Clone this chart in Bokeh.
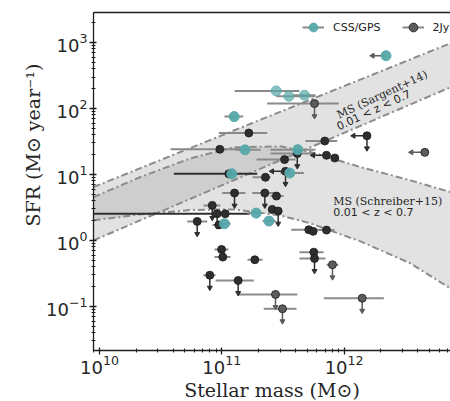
import math
from bokeh.plotting import figure
from bokeh.models import (Range1d, LogAxis, FixedTicker, LogTickFormatter, Label,
                          Legend, LegendItem, ColumnDataSource, Title)
from bokeh.embed import file_html
from bokeh.resources import INLINE

# ---------------- data (log10 values) ----------------
# 2Jy sample
jy_logm = [11.758, 11.221, 10.984, 11.842, 12.187, 12.660, 11.057, 11.617, 11.513, 11.856,
           11.924, 11.357, 11.521, 11.104, 11.352, 11.447, 10.922, 10.962, 11.028, 10.976,
           11.412, 11.461, 10.799, 10.998, 11.008, 11.270, 11.711, 11.747, 11.856, 11.752,
           11.758, 11.905, 10.902, 11.134, 11.439, 11.496, 12.148]
jy_logsfr = [2.074, 1.628, 1.381, 1.507, 1.586, 1.335, 1.009, 1.316, 1.225, 1.290,
             1.249, 0.956, 1.047, 0.718, 0.718, 0.672, 0.531, 0.405, 0.405, 0.235,
             0.470, 0.445, 0.288, -0.137, -0.253, -0.293, 0.162, 0.137, 0.156, -0.178,
             -0.273, -0.369, -0.527, -0.607, -0.819, -1.036, -0.876]
jy_logm_lo = [11.371, 10.976, 10.581, 11.684, 12.187, 12.660, 10.608, 11.398, 11.284, 11.856,
              11.894, 11.251, 11.521, 11.003, 11.249, 11.398, 10.850, 10.962, 9.850, 10.924,
              11.412, 11.461, 10.717, 10.940, 10.940, 11.210, 11.568, 11.747, 11.791, 11.635,
              11.635, 11.856, 10.850, 10.949, 11.126, 11.343, 11.834]
jy_logm_hi = [11.957, 11.371, 11.153, 11.944, 12.187, 12.660, 11.290, 11.766, 11.603, 11.856,
              11.954, 11.398, 11.521, 11.194, 11.453, 11.505, 10.989, 10.962, 11.229, 11.006,
              11.412, 11.461, 10.881, 11.055, 11.071, 11.333, 11.889, 11.747, 11.922, 11.832,
              11.848, 11.954, 10.949, 11.262, 11.617, 11.611, 12.325]
jy_sfr_uplim = [1, 0, 0, 0, 1, 0, 0, 1, 0, 0,
                0, 0, 1, 1, 1, 0, 1, 1, 0, 0,
                0, 1, 1, 0, 0, 0, 0, 0, 0, 0,
                1, 1, 1, 1, 1, 1, 1]
jy_mass_uplim = [0, 0, 0, 0, 1, 1, 0, 0, 0, 1,
                 0, 0, 1, 0, 0, 0, 0, 0, 0, 0,
                 0, 0, 0, 0, 0, 0, 0, 0, 0, 0,
                 0, 0, 0, 0, 0, 0, 0]
jy_faint = [1, 0, 0, 0, 0, 1, 0, 0, 0, 0,
            0, 0, 0, 0, 0, 0, 0, 0, 0, 0,
            0, 0, 0, 0, 0, 0, 0, 0, 0, 0,
            0, 1, 0, 0, 1, 1, 1]
jy_dark_err = [0, 0, 0, 0, 0, 0, 1, 0, 0, 0,
               0, 0, 0, 0, 0, 0, 0, 0, 1, 0,
               0, 0, 0, 0, 0, 0, 0, 0, 0, 0,
               0, 0, 0, 0, 0, 0, 0]

# CSS/GPS sample
css_logm = [12.343, 11.445, 11.548, 11.676, 11.101, 11.190, 11.621, 11.082, 11.556, 11.281,
            11.022, 11.386]
css_logsfr = [2.800, 2.266, 2.185, 2.200, 1.877, 1.373, 1.376, 1.009, 1.021, 0.414,
              0.253, 0.293]
css_logm_lo = [12.343, 11.106, 11.447, 11.586, 11.022, 11.112, 11.398, 11.082, 11.480, 11.208,
               10.973, 11.333]
css_logm_hi = [12.343, 11.635, 11.766, 11.766, 11.175, 11.317, 11.766, 11.082, 11.671, 11.330,
               11.071, 11.439]
css_mass_uplim = [1, 0, 0, 0, 0, 0, 0, 0, 0, 0, 0, 0]
css_faint = [0, 1, 1, 1, 0, 0, 0, 0, 0, 0, 0, 0]

# Main-sequence bands (log SFR at log M)
sargent_logm = [9.951, 12.870]
sargent_lo = [0.000, 2.322]
sargent_hi = [0.809, 2.989]
schreiber_logm = [9.951, 10.335, 10.744, 11.096, 11.480, 11.725, 12.134, 12.543, 12.870]
schreiber_hi = [0.657, 0.961, 1.244, 1.411, 1.426, 1.340, 1.112, 0.910, 0.733]
schreiber_lo = [0.304, 0.395, 0.460, 0.470, 0.379, 0.258, -0.015, -0.349, -0.728]

x_major = [1e10, 1e11, 1e12]
y_major = [1e-1, 1e0, 1e1, 1e2, 1e3]
x_log_range = (9.951, 12.870)
y_log_range = (-1.669, 3.455)

# ---------------- styling constants ----------------
CYAN = "#56a8aa"
DARK = "#2e2e2e"
FAINT = "#5c5c5c"
ERR = "#8a8a8a"
AX = "#1c1c1c"
TXT = "#262626"
ARROW_DEX_Y = 0.19
ARROW_DEX_X = 0.11

p = figure(width=450, height=401, x_axis_type="log", y_axis_type="log",
           x_range=Range1d(10 ** x_log_range[0], 10 ** x_log_range[1]),
           y_range=Range1d(10 ** y_log_range[0], 10 ** y_log_range[1]),
           output_backend="svg", toolbar_location=None,
           min_border_left=93, min_border_right=0, min_border_top=12, min_border_bottom=51)
p.grid.visible = False
p.outline_line_color = None
p.background_fill_color = "white"
p.border_fill_color = "white"

# bands
p.varea(x=[10 ** v for v in schreiber_logm], y1=[10 ** v for v in schreiber_lo],
        y2=[10 ** v for v in schreiber_hi], fill_color="#9e9e9e", fill_alpha=0.3)
p.varea(x=[10 ** v for v in sargent_logm], y1=[10 ** v for v in sargent_lo],
        y2=[10 ** v for v in sargent_hi], fill_color="#9e9e9e", fill_alpha=0.3)
band_line = dict(line_color="#8c8c8c", line_width=2, line_dash="7 3 2 3")
for xs, ys in ((schreiber_logm, schreiber_hi), (schreiber_logm, schreiber_lo),
               (sargent_logm, sargent_hi), (sargent_logm, sargent_lo)):
    p.line([10 ** v for v in xs], [10 ** v for v in ys], **band_line)


def errbars(logm, logsfr, lo, hi, colors):
    src = dict(x0=[], x1=[], y=[], c=[])
    for m, s, a, b, c in zip(logm, logsfr, lo, hi, colors):
        if b > a:
            src["x0"].append(10 ** a); src["x1"].append(10 ** b)
            src["y"].append(10 ** s); src["c"].append(c)
    return p.segment(x0="x0", x1="x1", y0="y", y1="y", line_color="c", line_width=2,
                     source=ColumnDataSource(src))


def arrows(logm, logsfr, uplim, mlim, colors):
    d = dict(x=[], y=[], xe=[], ye=[], c=[])
    l = dict(x=[], y=[], xe=[], ye=[], c=[])
    for m, s, u, ml, c in zip(logm, logsfr, uplim, mlim, colors):
        if u:
            d["x"].append(10 ** m); d["y"].append(10 ** s)
            d["xe"].append(10 ** m); d["ye"].append(10 ** (s - ARROW_DEX_Y)); d["c"].append(c)
        if ml:
            l["x"].append(10 ** m); l["y"].append(10 ** s)
            l["xe"].append(10 ** (m - ARROW_DEX_X)); l["ye"].append(10 ** s); l["c"].append(c)
    for dd, ang in ((d, 0.0), (l, math.pi / 2)):
        s = ColumnDataSource(dd)
        p.segment(x0="x", y0="y", x1="xe", y1="ye", line_color="c", line_width=1.5, source=s)
        p.scatter(x="xe", y="ye", marker="inverted_triangle" if ang == 0 else "triangle",
                  angle=ang, size=5, fill_color="c", line_color="c", source=s)


jy_cols = [FAINT if f else DARK for f in jy_faint]
jy_err_r = errbars(jy_logm, jy_logsfr, jy_logm_lo, jy_logm_hi,
                   [DARK if k else ERR for k in jy_dark_err])
css_err_r = errbars(css_logm, css_logsfr, css_logm_lo, css_logm_hi, [ERR] * len(css_logm))
arrows(jy_logm, jy_logsfr, jy_sfr_uplim, jy_mass_uplim, jy_cols)
arrows(css_logm, css_logsfr, [0] * len(css_logm), css_mass_uplim, [FAINT] * len(css_logm))

jy_src = ColumnDataSource(dict(x=[10 ** v for v in jy_logm], y=[10 ** v for v in jy_logsfr],
                               c=jy_cols))
jy_r = p.scatter(x="x", y="y", source=jy_src, marker="circle", size=8, fill_color="c",
                 line_color="#1a1a1a", line_width=0.8)
css_src = ColumnDataSource(dict(x=[10 ** v for v in css_logm], y=[10 ** v for v in css_logsfr],
                                a=[0.7 if f else 0.95 for f in css_faint]))
css_r = p.scatter(x="x", y="y", source=css_src, marker="circle", size=10, fill_color=CYAN,
                  line_color=CYAN, fill_alpha="a", line_alpha="a")

legend = Legend(items=[LegendItem(label="CSS/GPS", renderers=[css_err_r, css_r]),
                       LegendItem(label="2Jy", renderers=[jy_err_r, jy_r])],
                orientation="horizontal", location=(209, 312), border_line_color=None,
                background_fill_alpha=0, padding=0, margin=0, spacing=21,
                glyph_width=22, glyph_height=22, label_standoff=9,
                label_text_font="DejaVu Sans", label_text_font_size="11px",
                label_text_color="#222222")
p.add_layout(legend)

# axes
for ax in (p.xaxis[0], p.yaxis[0]):
    ax.formatter = LogTickFormatter()
    ax.axis_line_color = AX
    ax.axis_line_width = 1.3
    ax.major_tick_line_color = AX
    ax.major_tick_line_width = 1.3
    ax.minor_tick_line_color = AX
    ax.minor_tick_line_width = 1
    ax.major_tick_in = 3
    ax.major_tick_out = 4
    ax.minor_tick_in = 2
    ax.minor_tick_out = 2
    ax.major_label_text_font = "DejaVu Sans"
    ax.major_label_text_font_size = "18px"
    ax.major_label_text_color = TXT
p.xaxis[0].ticker = FixedTicker(ticks=x_major,
                                minor_ticks=[k * t for t in [1e9] + x_major for k in range(2, 10)])
p.yaxis[0].ticker = FixedTicker(ticks=y_major,
                                minor_ticks=[k * t for t in [1e-2] + y_major for k in range(2, 10)])
p.xaxis[0].major_label_standoff = 0
p.yaxis[0].major_label_standoff = 2

top = LogAxis(ticker=FixedTicker(ticks=[]), axis_line_color=AX, axis_line_width=1.3,
              major_tick_out=0, minor_tick_out=0, major_tick_in=0, minor_tick_in=0,
              major_label_standoff=0, major_label_text_font_size="0px")
p.add_layout(top, "above")

# axis titles
p.add_layout(Title(text="Stellar mass (M\u2299)", align="center", offset=4, standoff=0,
                   text_font="DejaVu Serif", text_font_size="19px", text_font_style="normal",
                   text_color=TXT), "below")
p.add_layout(Title(text="SFR (M\u2299 year\u207b\u00b9)", align="left", offset=124, standoff=0,
                   text_font="DejaVu Serif", text_font_size="19px", text_font_style="normal",
                   text_color=TXT), "left")

# band annotations
ang = math.radians(25)
p.add_layout(Label(x=288.7, y=255.8, x_units="screen", y_units="screen", text="MS (Sargent+14)",
                   angle=ang, text_font="DejaVu Serif", text_font_size="11px",
                   text_color=TXT, text_align="center", text_baseline="middle"))
p.add_layout(Label(x=283.5, y=241.7, x_units="screen", y_units="screen", text="0.01  < z <  0.7",
                   angle=ang, text_font="DejaVu Sans", text_font_size="11px",
                   text_color=TXT, text_align="center", text_baseline="middle"))
p.add_layout(Label(x=239.7, y=149, x_units="screen", y_units="screen", text="MS (Schreiber+15)",
                   text_font="DejaVu Serif", text_font_size="11px",
                   text_color=TXT, text_align="left", text_baseline="middle"))
p.add_layout(Label(x=239.7, y=137.7, x_units="screen", y_units="screen", text="0.01  < z <  0.7",
                   text_font="DejaVu Sans", text_font_size="11px",
                   text_color=TXT, text_align="left", text_baseline="middle"))

open("out.html", "w").write(file_html(p, INLINE))
